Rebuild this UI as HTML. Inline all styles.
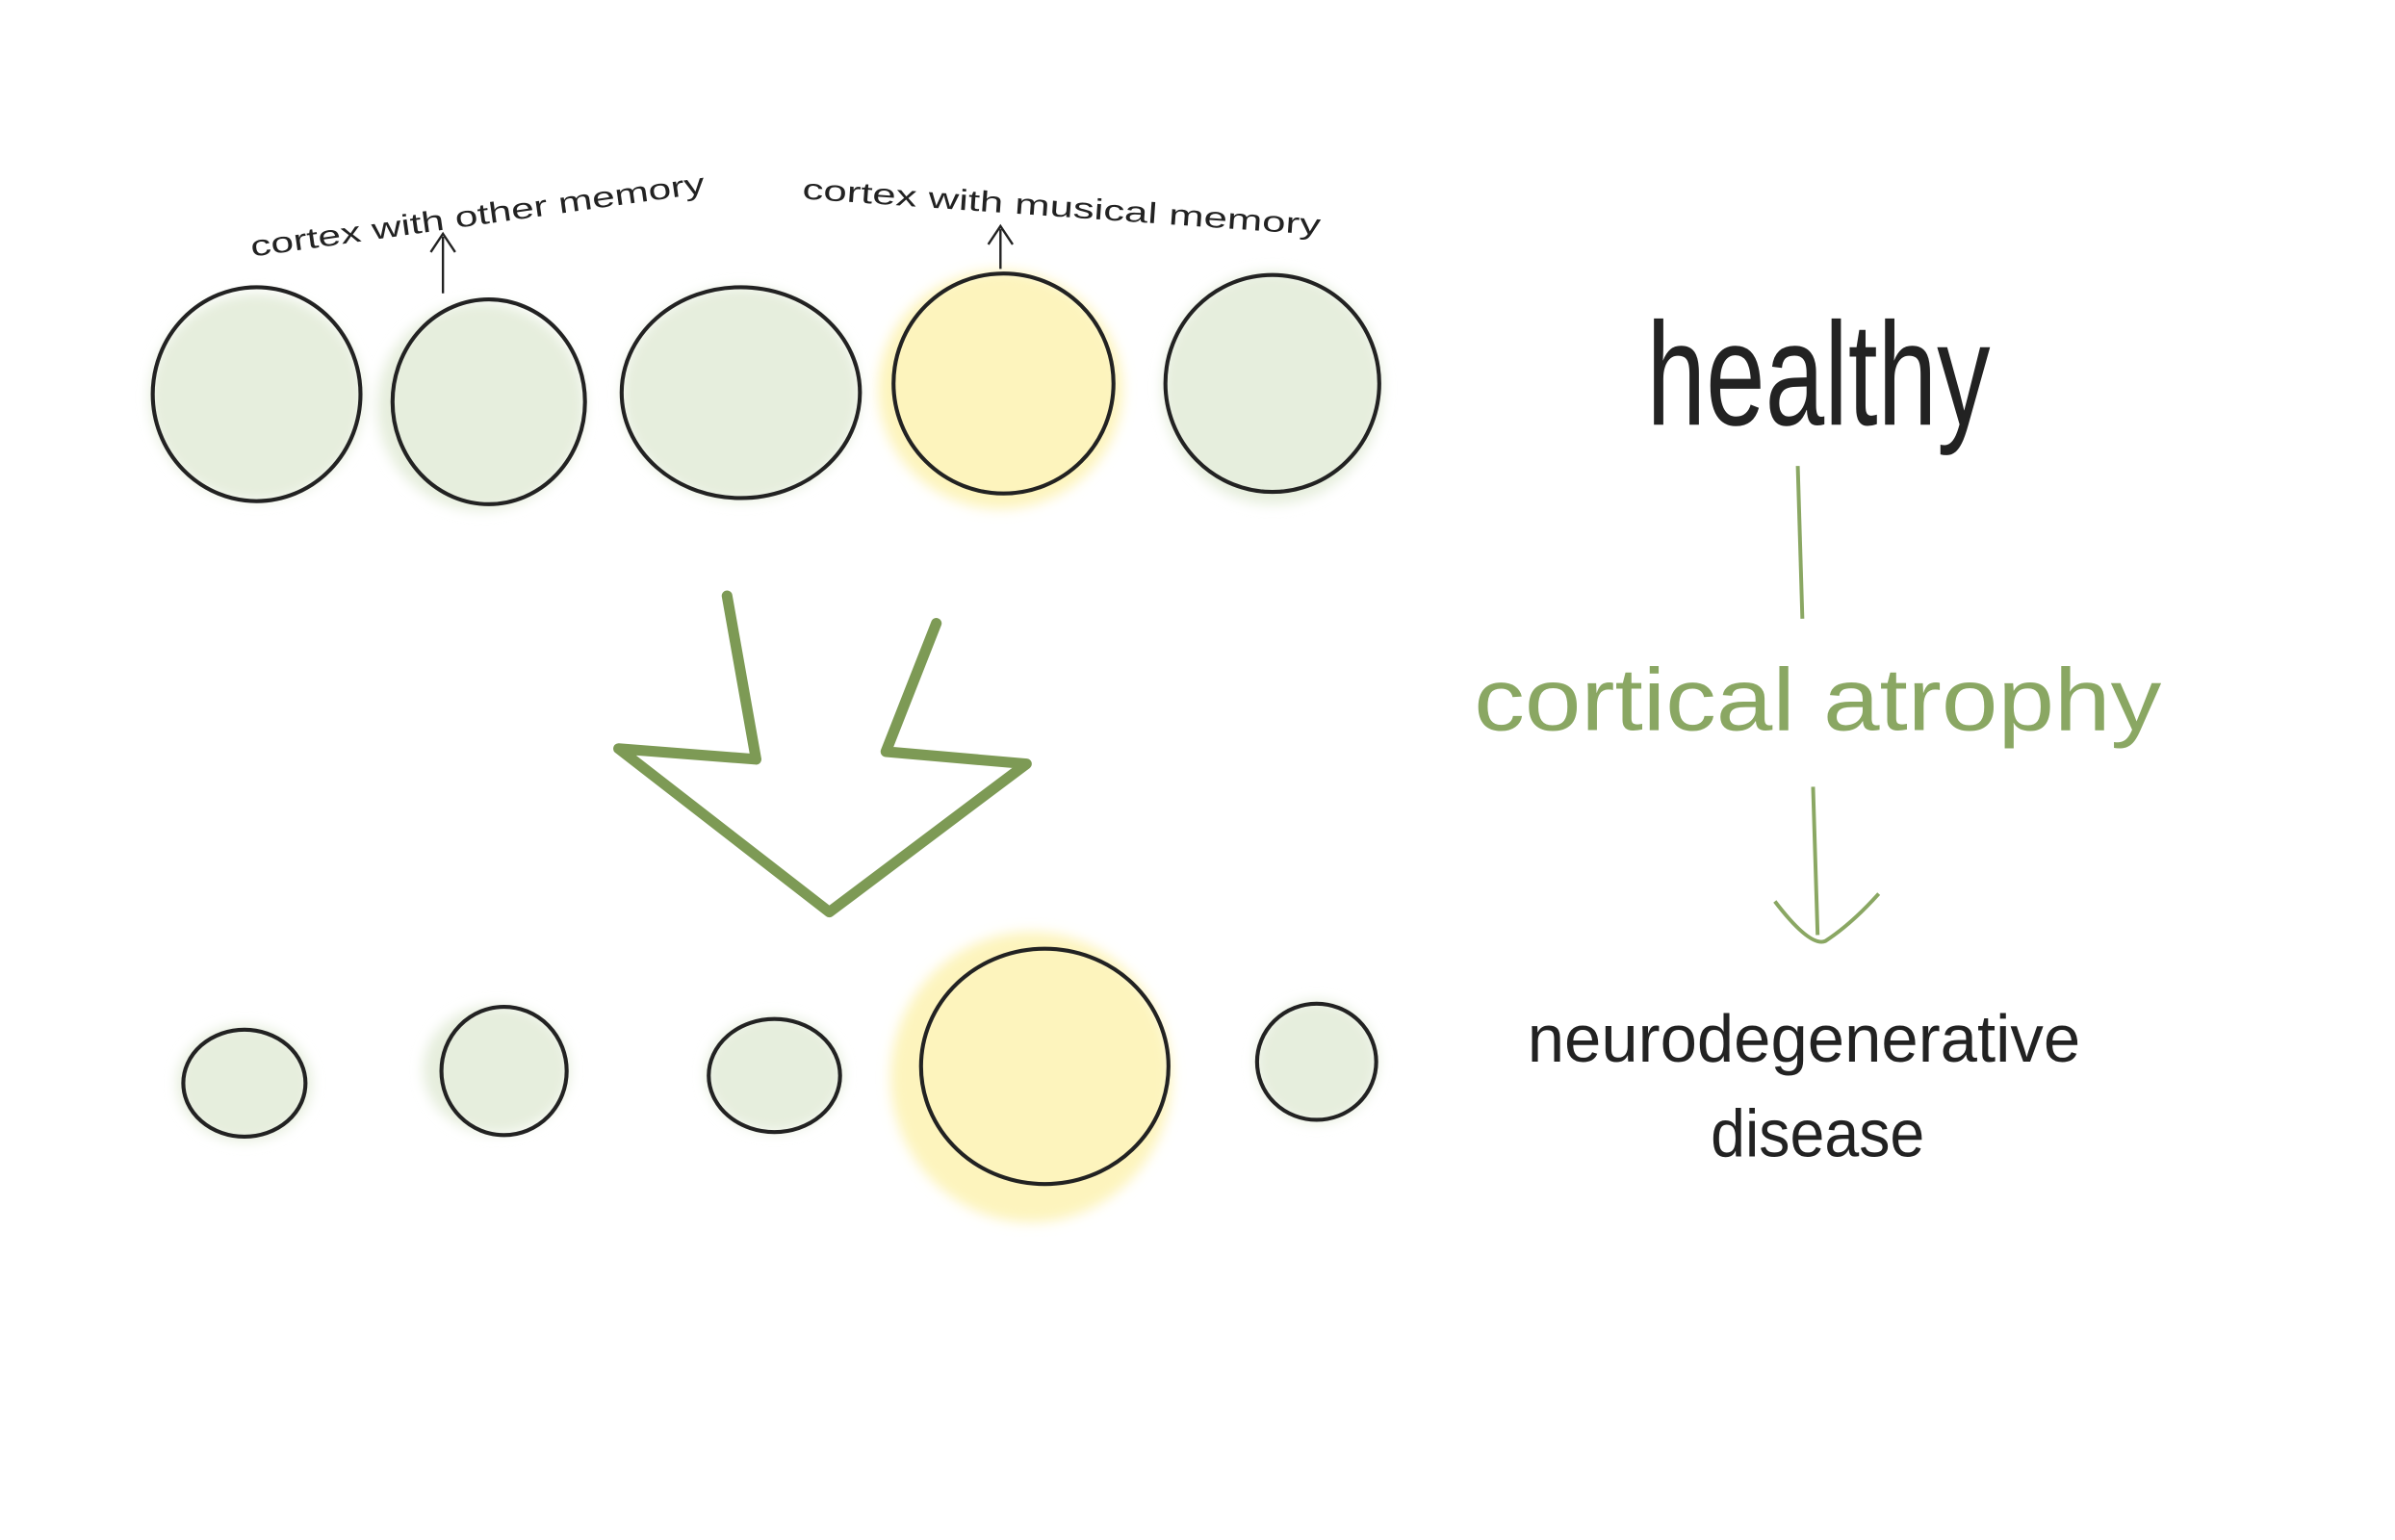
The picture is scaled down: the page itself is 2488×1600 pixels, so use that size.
<!DOCTYPE html>
<html><head><meta charset="utf-8"><style>
html,body{margin:0;padding:0;background:#fff;}
svg{display:block;}
text{font-family:"Liberation Sans",sans-serif;}
</style></head><body>
<svg width="2488" height="1600" viewBox="0 0 1568 1008" preserveAspectRatio="none">
<defs>
<filter id="blur" x="-30%" y="-30%" width="160%" height="160%"><feGaussianBlur stdDeviation="4"/></filter>
</defs>
<g fill="#e6eedd" filter="url(#blur)">
<ellipse cx="168" cy="260" rx="70" ry="68"/>
<ellipse cx="315" cy="266" rx="68" ry="68"/>
<ellipse cx="485" cy="258" rx="78" ry="70"/>
<ellipse cx="833" cy="254" rx="72" ry="76"/>
<ellipse cx="160" cy="709" rx="44" ry="38"/>
<ellipse cx="325" cy="700" rx="48" ry="42"/>
<ellipse cx="507" cy="703" rx="45" ry="38"/>
<ellipse cx="862" cy="695" rx="40" ry="40"/>
</g>
<g fill="#fdf4bd" filter="url(#blur)">
<ellipse cx="655" cy="255" rx="80" ry="78"/>
<ellipse cx="675" cy="705" rx="92" ry="95"/>
</g>
<g fill="none" stroke="#222" stroke-width="2.6">
<ellipse cx="168" cy="258" rx="68" ry="70"/>
<ellipse cx="320" cy="263" rx="63" ry="67"/>
<ellipse cx="485" cy="257" rx="78" ry="69"/>
<ellipse cx="657" cy="251" rx="72" ry="72"/>
<ellipse cx="833" cy="251" rx="70" ry="71"/>
<ellipse cx="160" cy="709" rx="40" ry="35"/>
<ellipse cx="330" cy="701" rx="41" ry="42"/>
<ellipse cx="507" cy="704" rx="43" ry="37"/>
<ellipse cx="684" cy="698" rx="81" ry="77"/>
<ellipse cx="862" cy="695" rx="39" ry="38"/>
</g>
<g fill="none" stroke="#222" stroke-width="1.5">
<path d="M290 192 L290 155 M282 165 L290 153 L298 165"/>
<path d="M655 176 L655 150 M647 160 L655 148 L663 160"/>
</g>
<path d="M476 390 L495 497 L405 490 L543 597 L672 500 L580 492 L613 408" fill="none" stroke="#7d9a55" stroke-width="7" stroke-linejoin="round" stroke-linecap="round"/>
<g fill="none" stroke="#8aa763" stroke-width="2.5">
<path d="M1177 305 L1180 405"/>
<path d="M1187 515 L1190 612 M1162 590 Q1185 620 1195 616 Q1212 605 1230 585"/>
</g>
<g fill="#222">
<text x="165" y="168" font-size="19" transform="rotate(-8 165 168)" textLength="300" lengthAdjust="spacingAndGlyphs">cortex with other memory</text>
<text x="525" y="130" font-size="19" transform="rotate(4 525 130)" textLength="340" lengthAdjust="spacingAndGlyphs">cortex with musical memory</text>
<text x="1078" y="278" font-size="96" font-weight="300" textLength="225" lengthAdjust="spacingAndGlyphs">healthy</text>
<text x="1000" y="695" font-size="44" textLength="362" lengthAdjust="spacingAndGlyphs">neurodegenerative</text>
<text x="1120" y="757" font-size="44" textLength="140" lengthAdjust="spacingAndGlyphs">disease</text>
</g>
<text x="965" y="478" font-size="58" fill="#8aa763" textLength="450" lengthAdjust="spacingAndGlyphs">cortical atrophy</text>
</svg>
</body></html>
